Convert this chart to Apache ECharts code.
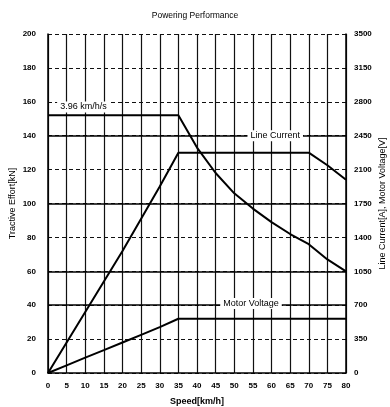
<!DOCTYPE html>
<html>
<head>
<meta charset="utf-8">
<script src="https://cdn.jsdelivr.net/npm/echarts@6/dist/echarts.min.js"></script>
<style>html,body{margin:0;padding:0;background:#fff}#c{width:390px;height:407px}</style>
</head>
<body>
<div id="c"></div>
<script>
var speeds = [0,5,10,15,20,25,30,35,40,45,50,55,60,65,70,75,80];
var tractiveEffort = [152,152,152,152,152,152,152,152,133,118,106,97,89,82,76,67,60];
var lineCurrent = [0,315,630,945,1260,1593,1925,2275,2275,2275,2275,2275,2275,2275,2275,2145,1995];
var motorVoltage = [0,79,158,236,315,394,473,560,560,560,560,560,560,560,560,560,560];
var leftTicks = [0,200,20];
var rightTicks = [0,3500,350];
var annotations = [
  {text:'3.96 km/h/s', x:9.5, y:157},
  {text:'Line Current', x:61, y:140},
  {text:'Motor Voltage', x:54.5, y:41}
];

function pairs(xs, ys){ return xs.map(function(x,i){return [x, ys[i]];}); }

var font = 'Liberation Sans';
var chart = echarts.init(document.getElementById('c'), null, {renderer:'canvas'});
var lineStyle = {color:'#000', width:2};
var labelStyle = {show:true, position:'inside', fontFamily:font, fontSize:9, color:'#000',
  backgroundColor:'#fff', padding:[1,3]};
chart.setOption({
  animation:false,
  backgroundColor:'#fff',
  title:{text:'Powering Performance', left:'center', top:6,
    textStyle:{fontFamily:font, fontSize:8.5, fontWeight:'normal', color:'#000'}},
  grid:{left:48, right:44, top:34, bottom:34, containLabel:false, outerBoundsMode:'none'},
  xAxis:{type:'value', min:0, max:80, interval:5,
    name:'Speed[km/h]', nameLocation:'middle', nameGap:24, nameMoveOverlap:false,
    nameTextStyle:{fontFamily:font, fontSize:9, fontWeight:'bold', color:'#000'},
    axisLine:{lineStyle:{color:'#000', width:1.5}},
    axisTick:{show:false},
    axisLabel:{fontFamily:font, fontSize:8, fontWeight:'bold', color:'#000', margin:9},
    splitLine:{show:true, lineStyle:{color:'#111', width:1.2, type:'solid'}}
  },
  yAxis:[
    {type:'value', min:leftTicks[0], max:leftTicks[1], interval:leftTicks[2],
     name:'Tractive Effort[kN]', nameLocation:'middle', nameGap:31, nameRotate:90, nameMoveOverlap:false,
     nameTextStyle:{fontFamily:font, fontSize:9, fontWeight:'normal', color:'#000'},
     axisLine:{show:true, lineStyle:{color:'#000', width:1.5}},
     axisTick:{show:false},
     axisLabel:{fontFamily:font, fontSize:8, fontWeight:'bold', color:'#000', margin:12},
     splitLine:{show:true, lineStyle:{color:'#111', width:1.2, type:[4,3]}}
    },
    {type:'value', min:rightTicks[0], max:rightTicks[1], interval:rightTicks[2],
     name:'Line Current[A], Motor Voltage[V]', nameLocation:'middle', nameGap:32, nameRotate:90, nameMoveOverlap:false,
     nameTextStyle:{fontFamily:font, fontSize:9, fontWeight:'normal', color:'#000'},
     axisLine:{show:true, lineStyle:{color:'#000', width:1.5}},
     axisTick:{show:false},
     axisLabel:{fontFamily:font, fontSize:8, fontWeight:'bold', color:'#000', margin:8,
       formatter:function(v){return String(v);}},
     splitLine:{show:false}
    }
  ],
  series:[
    {type:'line', yAxisIndex:0, data:pairs(speeds, tractiveEffort), symbol:'none', lineStyle:lineStyle, z:5,
     markLine:{silent:true, symbol:'none', label:{show:false},
       lineStyle:{color:'#000', width:1.5, type:'solid'},
       data:[{yAxis:40},{yAxis:60},{yAxis:100},{yAxis:140}]}
    },
    {type:'line', yAxisIndex:1, data:pairs(speeds, lineCurrent), symbol:'none', lineStyle:lineStyle, z:5},
    {type:'line', yAxisIndex:1, data:pairs(speeds, motorVoltage), symbol:'none', lineStyle:lineStyle, z:5},
    {type:'scatter', yAxisIndex:0, symbolSize:1, itemStyle:{color:'#fff', opacity:1}, z:10,
     data:annotations.map(function(a){return {value:[a.x,a.y], label:{formatter:a.text}};}),
     label:labelStyle
    }
  ]
});
</script>
</body>
</html>
